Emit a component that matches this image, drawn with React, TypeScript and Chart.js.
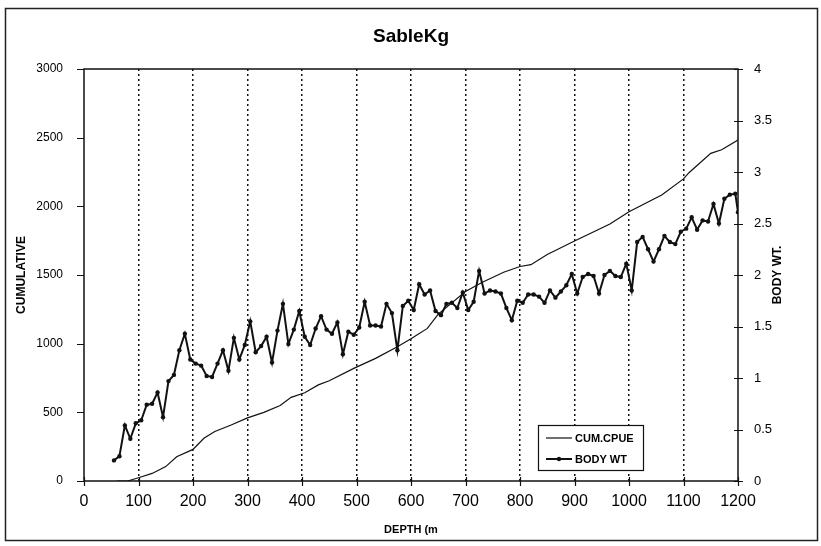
import React, { useEffect, useRef } from 'react';
import { Chart, registerables } from 'chart.js';

Chart.register(...registerables);

const FONT = "Arial, 'Liberation Sans', sans-serif";

const chartTitle = 'SableKg';
const xTitle = 'DEPTH (m';
const leftTitle = 'CUMULATIVE';
const rightTitle = 'BODY WT.';

const xTicks = [0, 100, 200, 300, 400, 500, 600, 700, 800, 900, 1000, 1100, 1200];
const leftTicks = [0, 500, 1000, 1500, 2000, 2500, 3000];
const rightTicks = [0, 0.5, 1, 1.5, 2, 2.5, 3, 3.5, 4];

const cumLabel = 'CUM.CPUE';
const cumDepth = [60, 80, 100, 125, 150, 170, 200, 220, 240, 270, 300, 330, 360, 380, 405, 430, 450, 495, 535, 575, 600, 630, 650, 700, 730, 770, 800, 820, 850, 900, 965, 1000, 1060, 1100, 1110, 1150, 1170, 1200];
const cumCpue = [0, 0, 24, 55, 105, 177, 230, 311, 360, 408, 460, 500, 550, 609, 643, 700, 730, 820, 893, 978, 1035, 1111, 1215, 1380, 1445, 1520, 1562, 1575, 1650, 1748, 1871, 1961, 2083, 2200, 2245, 2386, 2412, 2483];

const bodyLabel = 'BODY WT';
const bodyDepth = [55, 65, 75, 85, 95, 105, 115, 125, 135, 145, 155, 165, 175, 185, 195, 205, 215, 225, 235, 245, 255, 265, 275, 285, 295, 305, 315, 325, 335, 345, 355, 365, 375, 385, 395, 405, 415, 425, 435, 445, 455, 465, 475, 485, 495, 505, 515, 525, 535, 545, 555, 565, 575, 585, 595, 605, 615, 625, 635, 645, 655, 665, 675, 685, 695, 705, 715, 725, 735, 745, 755, 765, 775, 785, 795, 805, 815, 825, 835, 845, 855, 865, 875, 885, 895, 905, 915, 925, 935, 945, 955, 965, 975, 985, 995, 1005, 1015, 1025, 1035, 1045, 1055, 1065, 1075, 1085, 1095, 1105, 1115, 1125, 1135, 1145, 1155, 1165, 1175, 1185, 1195, 1200];
const bodyWt = [
  0.20, 0.24, 0.54, 0.41, 0.56, 0.59, 0.74, 0.75, 0.86, 0.62,
  0.97, 1.03, 1.27, 1.43, 1.18, 1.14, 1.12, 1.02, 1.01, 1.14,
  1.27, 1.07, 1.39, 1.18, 1.32, 1.55, 1.25, 1.31, 1.40, 1.15,
  1.46, 1.72, 1.33, 1.47, 1.65, 1.40, 1.32, 1.48, 1.60, 1.47,
  1.43, 1.54, 1.23, 1.45, 1.42, 1.49, 1.74, 1.51, 1.51, 1.50,
  1.72, 1.63, 1.27, 1.70, 1.75, 1.66, 1.91, 1.81, 1.85, 1.65,
  1.61, 1.72, 1.73, 1.68, 1.83, 1.66, 1.74, 2.04, 1.82, 1.85,
  1.84, 1.82, 1.68, 1.56, 1.75, 1.73, 1.81, 1.81, 1.79, 1.73,
  1.85, 1.78, 1.84, 1.90, 2.01, 1.82, 1.98, 2.01, 1.99, 1.82,
  2.00, 2.04, 1.99, 1.98, 2.11, 1.85, 2.32, 2.37, 2.25, 2.13,
  2.25, 2.38, 2.32, 2.30, 2.42, 2.45, 2.56, 2.44, 2.53, 2.52,
  2.69, 2.50, 2.74, 2.78, 2.79,
  2.61,
];

const INK = '#111';

const decorPlugin = {
  id: 'decor',
  beforeDraw(chart: any) {
    const { ctx, width, height } = chart;
    ctx.save();
    ctx.fillStyle = '#fff';
    ctx.fillRect(0, 0, width, height);
    ctx.strokeStyle = '#222';
    ctx.lineWidth = 1.5;
    ctx.strokeRect(5.5, 8.5, 812, 532);
    ctx.restore();
  },
  afterDraw(chart: any) {
    const { ctx, chartArea: a, scales } = chart;
    const xs = scales.x, yl = scales.y, yr = scales.y2;
    ctx.save();
    ctx.strokeStyle = INK;
    ctx.lineWidth = 1.5;
    ctx.strokeRect(a.left, a.top, a.right - a.left, a.bottom - a.top);
    ctx.lineWidth = 1.2;
    ctx.beginPath();
    xTicks.forEach((v) => {
      const px = Math.round(xs.getPixelForValue(v)) + 0.5;
      ctx.moveTo(px, a.bottom - 4);
      ctx.lineTo(px, a.bottom + 5);
    });
    leftTicks.forEach((v) => {
      const py = Math.round(yl.getPixelForValue(v)) + 0.5;
      ctx.moveTo(a.left - 7, py);
      ctx.lineTo(a.left, py);
    });
    rightTicks.forEach((v) => {
      const py = Math.round(yr.getPixelForValue(v)) + 0.5;
      ctx.moveTo(a.right - 4, py);
      ctx.lineTo(a.right + 5, py);
    });
    ctx.stroke();

    ctx.fillStyle = '#000';
    ctx.textAlign = 'center';
    ctx.textBaseline = 'middle';
    ctx.font = `bold 19px ${FONT}`;
    ctx.fillText(chartTitle, (a.left + a.right) / 2, 37);
    ctx.font = `bold 11px ${FONT}`;
    ctx.fillText(xTitle, (a.left + a.right) / 2, 530);

    ctx.font = `bold 12px ${FONT}`;
    ctx.save();
    ctx.translate(22, (a.top + a.bottom) / 2);
    ctx.rotate(-Math.PI / 2);
    ctx.fillText(leftTitle, 0, 0);
    ctx.restore();
    ctx.save();
    ctx.translate(778, (a.top + a.bottom) / 2);
    ctx.rotate(-Math.PI / 2);
    ctx.fillText(rightTitle, 0, 0);
    ctx.restore();

    const ds = chart.data.datasets;
    const lx = 538.5, ly = 425.5, lw = 105, lh = 45;
    ctx.fillStyle = '#fff';
    ctx.fillRect(lx, ly, lw, lh);
    ctx.strokeStyle = INK;
    ctx.lineWidth = 1.2;
    ctx.strokeRect(lx, ly, lw, lh);
    const rows = [438, 459];
    ds.forEach((d: any, i: number) => {
      const y = rows[i];
      ctx.strokeStyle = d.borderColor;
      ctx.lineWidth = d.borderWidth;
      ctx.beginPath();
      ctx.moveTo(546, y);
      ctx.lineTo(572, y);
      ctx.stroke();
      if (d.pointRadius > 0) {
        ctx.fillStyle = d.pointBackgroundColor;
        ctx.beginPath();
        ctx.arc(559, y, d.pointRadius, 0, Math.PI * 2);
        ctx.fill();
      }
      ctx.fillStyle = '#000';
      ctx.textAlign = 'left';
      ctx.font = `bold 11px ${FONT}`;
      ctx.fillText(d.label, 575, y + 0.5);
    });
    ctx.restore();
  },
};

export default function App() {
  const ref = useRef<HTMLCanvasElement | null>(null);

  useEffect(() => {
    document.body.style.margin = '0';
    const canvas = ref.current;
    if (!canvas) return;
    const chart = new Chart(canvas, {
      type: 'line',
      data: {
        datasets: [
          {
            label: cumLabel,
            data: cumDepth.map((d, i) => ({ x: d, y: cumCpue[i] })),
            yAxisID: 'y',
            borderColor: '#111',
            borderWidth: 1.2,
            pointRadius: 0,
            tension: 0,
            fill: false,
          },
          {
            label: bodyLabel,
            data: bodyDepth.map((d, i) => ({ x: d, y: bodyWt[i] })),
            yAxisID: 'y2',
            borderColor: INK,
            borderWidth: 2,
            pointRadius: 2.2,
            pointBackgroundColor: INK,
            pointBorderColor: INK,
            pointBorderWidth: 0,
            tension: 0,
            fill: false,
          },
        ],
      },
      options: {
        responsive: false,
        animation: false,
        devicePixelRatio: 1,
        layout: { padding: { top: 69, left: 0, right: 0, bottom: 0 } },
        plugins: {
          legend: { display: false },
          title: { display: false },
          tooltip: { enabled: false },
        },
        scales: {
          x: {
            type: 'linear',
            min: 0,
            max: 1200,
            afterBuildTicks: (s: any) => {
              s.ticks = xTicks.map((v) => ({ value: v }));
            },
            afterFit: (s: any) => {
              s.height = 65;
            },
            grid: {
              drawTicks: false,
              lineWidth: 1.5,
              color: (c: any) =>
                c.tick && (c.tick.value === 0 || c.tick.value === 1200) ? 'rgba(0,0,0,0)' : '#111',
            },
            border: { display: false, dash: [2, 3] },
            ticks: {
              padding: 11,
              color: '#000',
              font: { size: 16, family: FONT },
              autoSkip: false,
              maxRotation: 0,
              callback: (v: any) => String(v),
            },
          },
          y: {
            type: 'linear',
            position: 'left',
            min: 0,
            max: 3000,
            afterBuildTicks: (s: any) => {
              s.ticks = leftTicks.map((v) => ({ value: v }));
            },
            afterFit: (s: any) => {
              s.width = 84;
            },
            grid: { display: false },
            border: { display: false },
            ticks: {
              padding: 13,
              color: '#000',
              font: { size: 12, family: FONT },
              callback: (v: any) => String(v),
            },
          },
          y2: {
            type: 'linear',
            position: 'right',
            min: 0,
            max: 4,
            afterBuildTicks: (s: any) => {
              s.ticks = rightTicks.map((v) => ({ value: v }));
            },
            afterFit: (s: any) => {
              s.width = 83;
            },
            grid: { display: false },
            border: { display: false },
            ticks: {
              padding: 8,
              color: '#000',
              font: { size: 13, family: FONT },
              callback: (v: any) => String(v),
            },
          },
        },
      } as any,
      plugins: [decorPlugin],
    });
    return () => chart.destroy();
  }, []);

  return (
    <div style={{ width: 821, height: 546 }}>
      <canvas ref={ref} width={821} height={546} style={{ display: 'block' }} />
    </div>
  );
}
